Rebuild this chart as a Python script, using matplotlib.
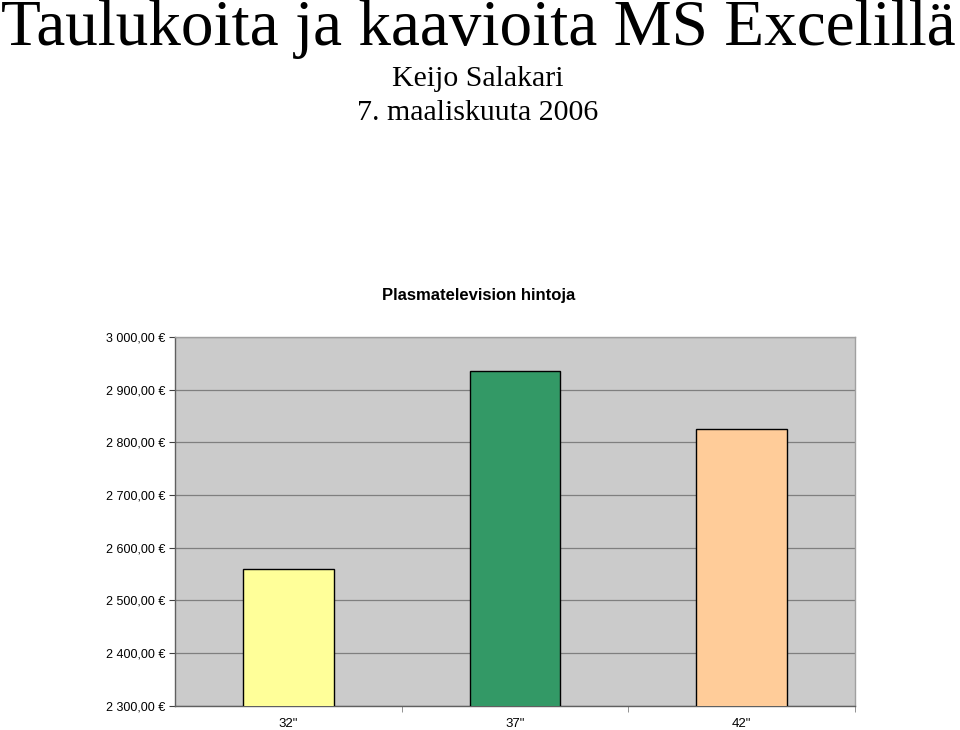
import matplotlib
matplotlib.use("Agg")
import matplotlib.pyplot as plt
from matplotlib.ticker import FuncFormatter, MultipleLocator

# Data
categories = ['32"', '37"', '42"']
prices = [2560, 2935, 2825]
bar_colors = ["#FFFF99", "#339966", "#FFCC99"]

main_title = "Taulukoita ja kaavioita MS Excelillä"
author = "Keijo Salakari"
date_text = "7. maaliskuuta 2006"
chart_title = "Plasmatelevision hintoja"

y_min, y_max, y_step = 2300, 3000, 100

fig = plt.figure(figsize=(9.6, 7.3), dpi=100)
fig.patch.set_facecolor("white")

serif = ["Liberation Serif", "DejaVu Serif"]
sans = ["Liberation Sans", "DejaVu Sans"]

fig.text(0.498, 1 - 45 / 730, main_title, family=serif, fontsize=47,
         ha="center", va="baseline", color="black")
fig.text(0.498, 1 - 86 / 730, author, family=serif, fontsize=21.5,
         ha="center", va="baseline", color="black")
fig.text(0.498, 1 - 120 / 730, date_text, family=serif, fontsize=21.5,
         ha="center", va="baseline", color="black")
fig.text(0.499, 1 - 299.5 / 730, chart_title, family=sans, fontsize=12,
         fontweight="bold", ha="center", va="baseline", color="black")

left, right, top, bottom = 175 / 960, 855 / 960, 1 - 337 / 730, 1 - 705.5 / 730
ax = fig.add_axes([left, bottom, right - left, top - bottom])
ax.set_facecolor("#CBCBCB")

x = list(range(len(categories)))
ax.bar(x, prices, width=0.4, bottom=0, color=bar_colors, edgecolor="black",
       linewidth=1.0, zorder=3)

ax.set_xlim(-0.5, len(categories) - 0.5)
ax.set_ylim(y_min, y_max)
ax.yaxis.set_major_locator(MultipleLocator(y_step))


def euro(v, pos):
    s = f"{v:,.2f}".replace(",", " ").replace(".", ",")
    return s + " €"


ax.yaxis.set_major_formatter(FuncFormatter(euro))
ax.grid(axis="y", color="#7F7F7F", linewidth=0.9, zorder=1)
ax.set_axisbelow(True)

ax.set_xticks(x)
ax.set_xticklabels(categories, family=sans, fontsize=9.5)
ax.tick_params(axis="x", length=0, pad=9)
ax.set_xticks([i + 0.5 for i in range(len(categories))], minor=True)
ax.tick_params(axis="x", which="minor", length=4, direction="out", color="#808080")
for lab in ax.get_yticklabels():
    lab.set_family(sans)
    lab.set_fontsize(9)
ax.tick_params(axis="y", length=4, direction="out", color="#404040", pad=3)

for side in ["top", "right"]:
    ax.spines[side].set_color("#A0A0A0")
    ax.spines[side].set_linewidth(1.0)
for side in ["left", "bottom"]:
    ax.spines[side].set_color("#606060")
    ax.spines[side].set_linewidth(1.0)

fig.savefig("out.png", dpi=100, facecolor="white")
